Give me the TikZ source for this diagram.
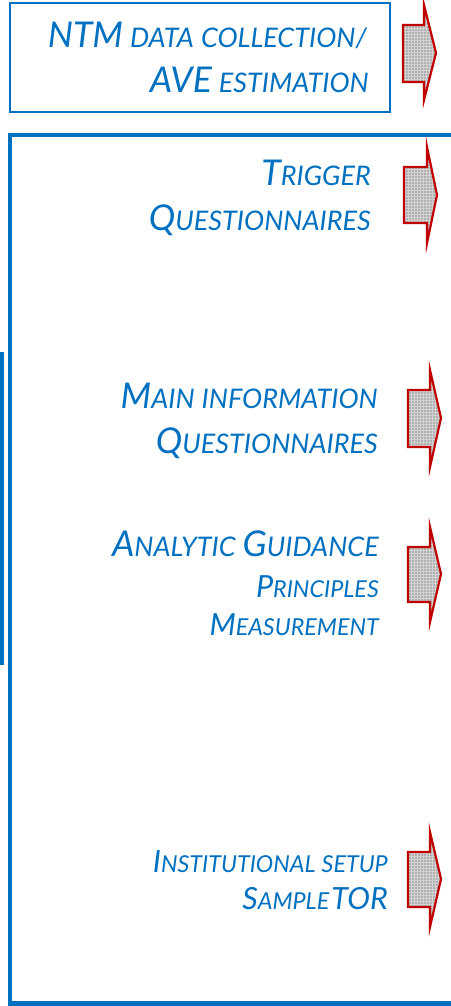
\documentclass[tikz,border=0pt]{standalone}
\usepackage{fontspec}
\setmainfont{Lato}
\usetikzlibrary{patterns}
\definecolor{tblue}{RGB}{0,112,192}
\definecolor{ared}{RGB}{192,0,0}
\newcommand\Bg[1]{{\fontsize{35.5}{35.5}\selectfont #1}}
\newcommand\Sm[1]{{\fontsize{27}{27}\selectfont #1}}
\newcommand\BgS[1]{{\fontsize{30.5}{30.5}\selectfont #1}}
\newcommand\SmS[1]{{\fontsize{23.3}{23.3}\selectfont #1}}
\newcommand\Sp{\hspace{7pt}}
\newcommand\blockarrow[8]{%
  \fill[gray!62] (#1,#4) -- (#2,#4) -- (#2,#6) -- (#3,#8) -- (#2,#7) -- (#2,#5) -- (#1,#5) -- cycle;
  \fill[pattern=grid, pattern color=gray!35] (#1,#4) -- (#2,#4) -- (#2,#6) -- (#3,#8) -- (#2,#7) -- (#2,#5) -- (#1,#5) -- cycle;
  \draw[arrowline] (#1,#4) -- (#2,#4) -- (#2,#6) -- (#3,#8) -- (#2,#7) -- (#2,#5) -- (#1,#5) -- cycle;
}
\tikzset{
  lbl/.style={anchor=base east, inner sep=0pt, text=tblue, font=\itshape},
  arrowline/.style={draw=ared, line width=2.2pt, line join=miter},
  thinbox/.style={draw=tblue, line width=2pt},
  thickbox/.style={draw=tblue, line width=4.5pt}
}
\begin{document}
\begin{tikzpicture}[x=1pt,y=-1pt]
\useasboundingbox (0,0) rectangle (450,1006);
% boxes
\draw[thinbox] (10,3) rectangle (390,112);
\draw[thickbox] (460,135) -- (10,135) -- (10,1003.5) -- (460,1003.5);
\fill[tblue] (0,352) rectangle (3.5,665);
% arrows
\blockarrow{403}{424}{436}{25}{82}{5}{100}{53}
\blockarrow{404}{427}{437}{167}{223}{147}{243}{195}
\blockarrow{408}{430}{441}{390}{447}{370}{467}{418}
\blockarrow{408}{430}{441}{547}{602}{527}{622}{574}
\blockarrow{408}{430}{441}{852}{907}{832}{927}{879}
% texts
\node[lbl] (t1a) at (367,48) {\Bg{NTM}\Sp\Sm{DATA\Sp COLLECTION/}};
\node[lbl] (t1b) at (369,93) {\Bg{AVE}\Sp\Sm{ESTIMATION}};
\node[lbl] (t2a) at (371,185) {\Bg{T}\Sm{RIGGER}};
\node[lbl] (t2b) at (371,230) {\Bg{Q}\Sm{UESTIONNAIRES}};
\node[lbl] (t3a) at (378,408) {\Bg{M}\Sm{AIN\Sp INFORMATION}};
\node[lbl] (t3b) at (378,453) {\Bg{Q}\Sm{UESTIONNAIRES}};
\node[lbl] (t4a) at (379,556) {\Bg{A}\Sm{NALYTIC}\Sp\Bg{G}\Sm{UIDANCE}};
\node[lbl] (t4b) at (379,597) {\BgS{P}\SmS{RINCIPLES}};
\node[lbl] (t4c) at (379,635) {\BgS{M}\SmS{EASUREMENT}};
\node[lbl] (t5a) at (388,872) {\BgS{I}\SmS{NSTITUTIONAL\hspace{6pt}SETUP}};
\node[lbl] (t5b) at (388,909) {\BgS{S}\SmS{AMPLE}\hspace{2pt}\BgS{TOR}};
\end{tikzpicture}
\end{document}
